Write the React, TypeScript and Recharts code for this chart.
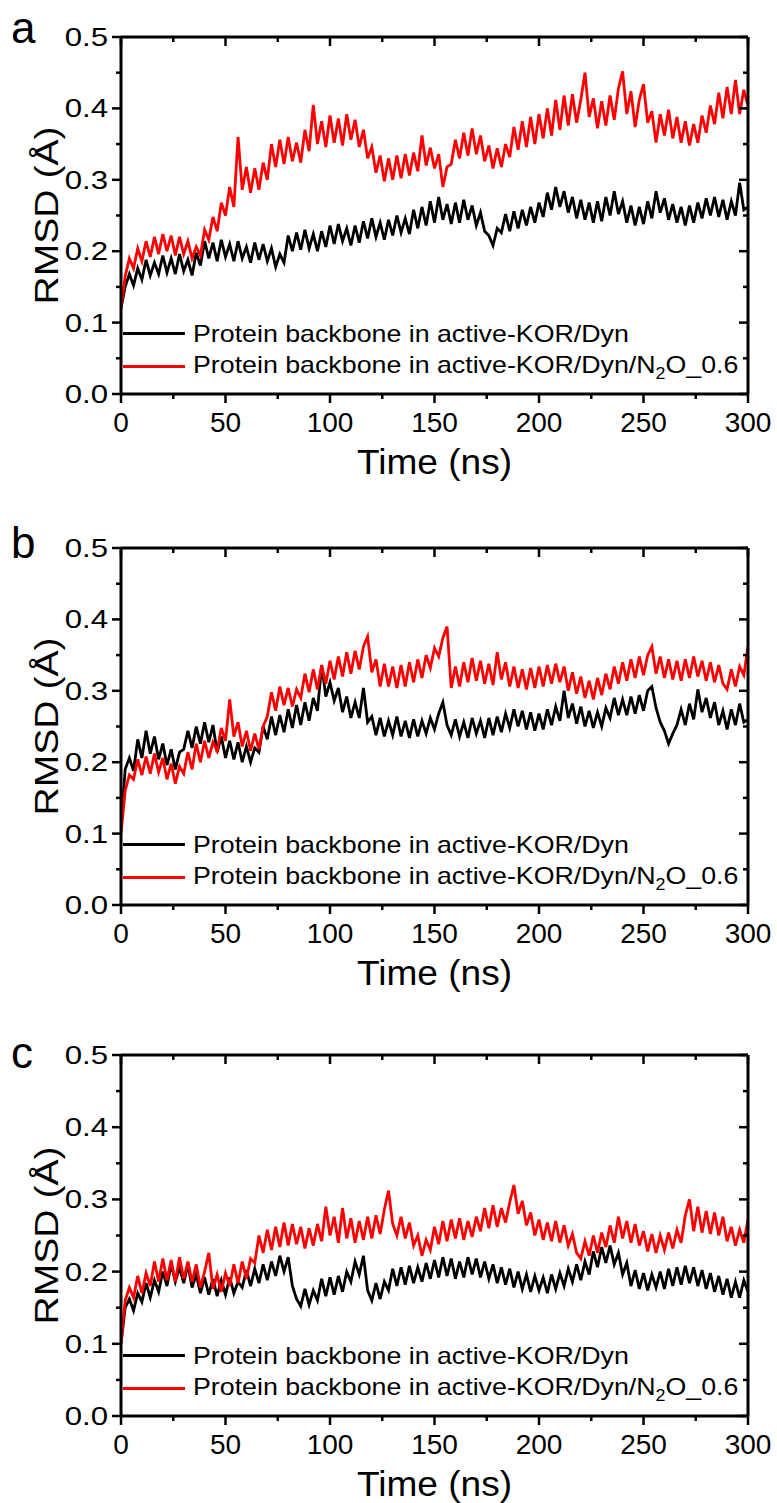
import React from 'react';
import { LineChart, Line, XAxis, YAxis, Legend } from 'recharts';

// time axis: 0 .. 300 ns, one sample every 2 ns
const TIME = Array.from({ length: 151 }, (_, i) => i * 2);
const X_TICKS = [0, 25, 50, 75, 100, 125, 150, 175, 200, 225, 250, 275, 300];
const Y_TICKS = [0, 0.05, 0.1, 0.15, 0.2, 0.25, 0.3, 0.35, 0.4, 0.45, 0.5];

// panel a
const A_DYN = [
  0.120, 0.150, 0.168, 0.152, 0.176, 0.160, 0.188, 0.166, 0.184, 0.168,
  0.194, 0.170, 0.190, 0.168, 0.196, 0.172, 0.188, 0.166, 0.198, 0.180,
  0.214, 0.190, 0.212, 0.186, 0.216, 0.192, 0.210, 0.186, 0.214, 0.190,
  0.206, 0.184, 0.212, 0.188, 0.210, 0.186, 0.204, 0.178, 0.196, 0.184,
  0.222, 0.200, 0.226, 0.202, 0.230, 0.204, 0.224, 0.200, 0.228, 0.206,
  0.236, 0.210, 0.238, 0.214, 0.232, 0.208, 0.236, 0.212, 0.242, 0.218,
  0.246, 0.220, 0.240, 0.216, 0.244, 0.222, 0.250, 0.226, 0.246, 0.224,
  0.258, 0.232, 0.262, 0.236, 0.270, 0.240, 0.276, 0.244, 0.266, 0.238,
  0.268, 0.240, 0.272, 0.244, 0.264, 0.236, 0.254, 0.228, 0.222, 0.208,
  0.232, 0.226, 0.252, 0.228, 0.256, 0.232, 0.258, 0.236, 0.262, 0.240,
  0.268, 0.248, 0.282, 0.258, 0.290, 0.262, 0.284, 0.254, 0.276, 0.246,
  0.272, 0.244, 0.268, 0.240, 0.270, 0.242, 0.276, 0.250, 0.284, 0.252,
  0.270, 0.240, 0.264, 0.236, 0.262, 0.238, 0.270, 0.246, 0.284, 0.254,
  0.274, 0.244, 0.266, 0.240, 0.262, 0.236, 0.264, 0.240, 0.268, 0.246,
  0.274, 0.250, 0.276, 0.248, 0.272, 0.244, 0.270, 0.250, 0.296, 0.258,
  0.262,
];
const A_N2O = [
  0.120, 0.165, 0.190, 0.176, 0.204, 0.186, 0.214, 0.192, 0.220, 0.196,
  0.224, 0.200, 0.222, 0.194, 0.220, 0.196, 0.214, 0.190, 0.206, 0.194,
  0.230, 0.216, 0.248, 0.228, 0.268, 0.250, 0.290, 0.262, 0.360, 0.286,
  0.318, 0.282, 0.316, 0.286, 0.324, 0.300, 0.350, 0.318, 0.356, 0.322,
  0.360, 0.326, 0.352, 0.324, 0.370, 0.340, 0.405, 0.350, 0.382, 0.346,
  0.390, 0.352, 0.386, 0.348, 0.392, 0.356, 0.384, 0.346, 0.370, 0.330,
  0.346, 0.310, 0.334, 0.298, 0.330, 0.300, 0.334, 0.302, 0.336, 0.306,
  0.338, 0.312, 0.362, 0.320, 0.345, 0.316, 0.336, 0.290, 0.318, 0.322,
  0.356, 0.330, 0.366, 0.334, 0.372, 0.336, 0.362, 0.326, 0.348, 0.316,
  0.344, 0.318, 0.350, 0.332, 0.374, 0.342, 0.382, 0.346, 0.388, 0.350,
  0.392, 0.358, 0.400, 0.362, 0.412, 0.370, 0.418, 0.376, 0.420, 0.380,
  0.412, 0.450, 0.388, 0.414, 0.372, 0.410, 0.376, 0.418, 0.384, 0.428,
  0.452, 0.392, 0.424, 0.374, 0.412, 0.434, 0.380, 0.396, 0.352, 0.392,
  0.362, 0.398, 0.358, 0.388, 0.352, 0.382, 0.348, 0.378, 0.352, 0.390,
  0.366, 0.404, 0.378, 0.422, 0.386, 0.430, 0.392, 0.440, 0.392, 0.426,
  0.404,
];

// panel b
const B_DYN = [
  0.110, 0.190, 0.206, 0.188, 0.232, 0.206, 0.244, 0.212, 0.236, 0.204,
  0.226, 0.196, 0.218, 0.190, 0.214, 0.218, 0.244, 0.220, 0.250, 0.226,
  0.256, 0.228, 0.252, 0.214, 0.236, 0.206, 0.230, 0.204, 0.228, 0.200,
  0.222, 0.200, 0.220, 0.214, 0.250, 0.232, 0.264, 0.238, 0.266, 0.242,
  0.274, 0.248, 0.280, 0.252, 0.284, 0.258, 0.290, 0.272, 0.336, 0.292,
  0.312, 0.286, 0.304, 0.270, 0.292, 0.262, 0.284, 0.262, 0.304, 0.256,
  0.264, 0.238, 0.262, 0.236, 0.258, 0.238, 0.264, 0.236, 0.258, 0.234,
  0.260, 0.236, 0.258, 0.240, 0.262, 0.246, 0.268, 0.284, 0.252, 0.238,
  0.260, 0.236, 0.256, 0.234, 0.262, 0.240, 0.258, 0.234, 0.262, 0.238,
  0.264, 0.242, 0.268, 0.248, 0.274, 0.250, 0.272, 0.246, 0.270, 0.244,
  0.268, 0.246, 0.274, 0.252, 0.278, 0.258, 0.300, 0.262, 0.282, 0.254,
  0.278, 0.250, 0.272, 0.248, 0.270, 0.250, 0.276, 0.262, 0.290, 0.266,
  0.288, 0.266, 0.292, 0.268, 0.294, 0.272, 0.300, 0.306, 0.276, 0.256,
  0.244, 0.226, 0.240, 0.252, 0.274, 0.252, 0.282, 0.260, 0.302, 0.270,
  0.290, 0.262, 0.284, 0.252, 0.272, 0.246, 0.274, 0.252, 0.282, 0.256,
  0.260,
];
const B_N2O = [
  0.100, 0.160, 0.182, 0.176, 0.204, 0.182, 0.208, 0.184, 0.212, 0.186,
  0.206, 0.176, 0.198, 0.170, 0.194, 0.184, 0.214, 0.190, 0.226, 0.200,
  0.230, 0.206, 0.228, 0.216, 0.248, 0.230, 0.288, 0.236, 0.256, 0.222,
  0.244, 0.216, 0.240, 0.218, 0.250, 0.264, 0.298, 0.272, 0.306, 0.280,
  0.304, 0.278, 0.302, 0.290, 0.324, 0.298, 0.330, 0.302, 0.336, 0.310,
  0.342, 0.316, 0.348, 0.320, 0.354, 0.324, 0.356, 0.330, 0.362, 0.376,
  0.326, 0.344, 0.306, 0.338, 0.306, 0.334, 0.304, 0.336, 0.306, 0.340,
  0.312, 0.344, 0.318, 0.350, 0.332, 0.360, 0.348, 0.374, 0.390, 0.304,
  0.334, 0.306, 0.340, 0.312, 0.346, 0.314, 0.342, 0.310, 0.338, 0.308,
  0.354, 0.316, 0.340, 0.306, 0.334, 0.304, 0.330, 0.302, 0.332, 0.304,
  0.334, 0.306, 0.336, 0.310, 0.338, 0.312, 0.334, 0.300, 0.326, 0.296,
  0.320, 0.290, 0.314, 0.288, 0.318, 0.294, 0.324, 0.302, 0.334, 0.310,
  0.340, 0.314, 0.344, 0.318, 0.348, 0.322, 0.350, 0.362, 0.324, 0.348,
  0.318, 0.344, 0.316, 0.342, 0.314, 0.344, 0.318, 0.348, 0.320, 0.342,
  0.314, 0.340, 0.312, 0.336, 0.310, 0.302, 0.330, 0.306, 0.334, 0.322,
  0.362,
];

// panel c
const C_DYN = [
  0.100, 0.150, 0.162, 0.146, 0.170, 0.158, 0.184, 0.164, 0.188, 0.172,
  0.200, 0.180, 0.210, 0.186, 0.206, 0.184, 0.210, 0.178, 0.196, 0.170,
  0.192, 0.168, 0.190, 0.166, 0.188, 0.168, 0.192, 0.170, 0.186, 0.178,
  0.202, 0.180, 0.204, 0.184, 0.210, 0.188, 0.214, 0.194, 0.222, 0.200,
  0.220, 0.180, 0.162, 0.152, 0.176, 0.154, 0.174, 0.160, 0.190, 0.166,
  0.192, 0.168, 0.194, 0.172, 0.200, 0.186, 0.214, 0.196, 0.222, 0.174,
  0.160, 0.184, 0.162, 0.186, 0.174, 0.204, 0.180, 0.206, 0.182, 0.208,
  0.184, 0.206, 0.186, 0.212, 0.190, 0.216, 0.192, 0.220, 0.194, 0.218,
  0.190, 0.214, 0.192, 0.220, 0.196, 0.218, 0.192, 0.214, 0.190, 0.210,
  0.184, 0.206, 0.182, 0.204, 0.178, 0.200, 0.176, 0.196, 0.172, 0.194,
  0.174, 0.192, 0.170, 0.196, 0.176, 0.198, 0.180, 0.204, 0.186, 0.210,
  0.188, 0.214, 0.196, 0.228, 0.206, 0.234, 0.212, 0.236, 0.210, 0.226,
  0.196, 0.212, 0.180, 0.202, 0.176, 0.198, 0.174, 0.196, 0.178, 0.200,
  0.176, 0.204, 0.180, 0.206, 0.182, 0.208, 0.184, 0.206, 0.180, 0.202,
  0.176, 0.198, 0.172, 0.194, 0.168, 0.190, 0.164, 0.186, 0.164, 0.188,
  0.172,
];
const C_N2O = [
  0.100, 0.160, 0.178, 0.164, 0.194, 0.170, 0.198, 0.180, 0.214, 0.186,
  0.218, 0.188, 0.216, 0.186, 0.220, 0.190, 0.214, 0.186, 0.210, 0.178,
  0.200, 0.226, 0.176, 0.196, 0.172, 0.198, 0.180, 0.210, 0.184, 0.214,
  0.190, 0.218, 0.212, 0.250, 0.226, 0.258, 0.230, 0.262, 0.234, 0.268,
  0.236, 0.266, 0.238, 0.262, 0.232, 0.260, 0.236, 0.266, 0.242, 0.290,
  0.250, 0.276, 0.240, 0.288, 0.246, 0.274, 0.240, 0.270, 0.244, 0.276,
  0.246, 0.278, 0.252, 0.286, 0.312, 0.266, 0.250, 0.276, 0.246, 0.268,
  0.236, 0.250, 0.222, 0.244, 0.230, 0.262, 0.238, 0.270, 0.242, 0.272,
  0.246, 0.274, 0.244, 0.270, 0.248, 0.276, 0.256, 0.288, 0.260, 0.292,
  0.262, 0.288, 0.268, 0.296, 0.320, 0.280, 0.298, 0.264, 0.282, 0.250,
  0.272, 0.244, 0.268, 0.242, 0.270, 0.240, 0.264, 0.236, 0.252, 0.226,
  0.218, 0.242, 0.222, 0.250, 0.226, 0.254, 0.234, 0.264, 0.240, 0.276,
  0.246, 0.270, 0.240, 0.266, 0.236, 0.256, 0.228, 0.252, 0.226, 0.250,
  0.230, 0.254, 0.232, 0.258, 0.240, 0.278, 0.300, 0.256, 0.290, 0.254,
  0.284, 0.252, 0.282, 0.250, 0.276, 0.242, 0.262, 0.236, 0.258, 0.240,
  0.272,
];

const LEGEND_DYN = 'Protein backbone in active-KOR/Dyn';
const FONT = '"Liberation Sans", Arial, Helvetica, sans-serif';
const W = 777;
const PLOT_L = 121;
const PLOT_R = 748;

const panels = [
  { letter: 'a', letterY: 43, dyn: A_DYN, n2o: A_N2O, plotTop: 37, plotBottom: 394 },
  { letter: 'b', letterY: 558, dyn: B_DYN, n2o: B_N2O, plotTop: 548, plotBottom: 905 },
  { letter: 'c', letterY: 1068, dyn: C_DYN, n2o: C_N2O, plotTop: 1055, plotBottom: 1416 },
];

const axisStyle = { stroke: '#000', strokeWidth: 3 };

const bottomTick = (props: any) => {
  const { x, y, payload } = props;
  const major = payload.value % 50 === 0;
  return (
    <g>
      <line x1={x} x2={x} y1={y} y2={y + (major ? 9 : 5)} stroke="#000" strokeWidth={2.5} />
      {major && (
        <text x={x} y={y + 38} textAnchor="middle" fontSize={28} fontFamily={FONT} fill="#000">
          {payload.value}
        </text>
      )}
    </g>
  );
};

const topTick = (props: any) => {
  const { x, y, payload } = props;
  const major = payload.value % 50 === 0;
  return <line x1={x} x2={x} y1={y} y2={y + (major ? 9 : 5)} stroke="#000" strokeWidth={2.5} />;
};

const leftTick = (props: any) => {
  const { x, y, payload } = props;
  const major = Math.round(payload.value * 100) % 10 === 0;
  return (
    <g>
      <line x1={x - (major ? 9 : 5)} x2={x} y1={y} y2={y} stroke="#000" strokeWidth={2.5} />
      {major && (
        <text
          transform={`translate(${x - 13},${y + 9}) scale(1.2,1)`}
          textAnchor="end"
          fontSize={26}
          fontFamily={FONT}
          fill="#000"
        >
          {payload.value.toFixed(1)}
        </text>
      )}
    </g>
  );
};

const rightTick = (props: any) => {
  const { x, y, payload } = props;
  const major = Math.round(payload.value * 100) % 10 === 0;
  return <line x1={x - (major ? 9 : 5)} x2={x} y1={y} y2={y} stroke="#000" strokeWidth={2.5} />;
};

function LegendRow({ color, children }: { color: string; children: React.ReactNode }) {
  return (
    <div style={{ display: 'flex', alignItems: 'center', height: 33 }}>
      <svg width={72} height={33} style={{ flex: 'none' }}>
        <line x1={2} x2={64} y1={16.5} y2={16.5} stroke={color} strokeWidth={3} />
      </svg>
      <span
        style={{
          fontFamily: FONT,
          fontSize: 24,
          color: '#000',
          whiteSpace: 'nowrap',
          lineHeight: '33px',
          display: 'inline-block',
          transform: 'scaleX(1.115)',
          transformOrigin: 'left center',
        }}
      >
        {children}
      </span>
    </div>
  );
}

const legendContent = () => (
  <div>
    <LegendRow color="#000">{LEGEND_DYN}</LegendRow>
    <LegendRow color="#ff0000">
      {LEGEND_DYN}/N
      <span style={{ fontSize: 16, position: 'relative', top: 6 }}>2</span>
      O_0.6
    </LegendRow>
  </div>
);

function Panel({ p }: { p: (typeof panels)[number] }) {
  const H = 500;
  const top = p.plotTop - 37;
  const plotH = p.plotBottom - p.plotTop;
  const data = TIME.map((t, i) => ({ t, dyn: p.dyn[i], n2o: p.n2o[i] }));
  // axes take 1px each, so the margins are 1px short of the plot edges
  return (
    <div style={{ position: 'absolute', left: 0, top, width: W, height: H }}>
      <LineChart
        width={W}
        height={H}
        data={data}
        margin={{ top: 36, left: PLOT_L - 1, right: W - PLOT_R - 1, bottom: H - 37 - plotH - 1 }}
      >
        <XAxis
          xAxisId="bottom"
          dataKey="t"
          type="number"
          domain={[0, 300]}
          ticks={X_TICKS}
          interval={0}
          height={1}
          tickSize={0}
          tickMargin={0}
          tickLine={false}
          axisLine={axisStyle}
          tick={bottomTick}
          allowDataOverflow
        />
        <XAxis
          xAxisId="top"
          orientation="top"
          dataKey="t"
          type="number"
          domain={[0, 300]}
          ticks={X_TICKS}
          interval={0}
          height={1}
          tickSize={0}
          tickMargin={0}
          tickLine={false}
          axisLine={axisStyle}
          tick={topTick}
          allowDataOverflow
        />
        <YAxis
          yAxisId="left"
          type="number"
          domain={[0, 0.5]}
          ticks={Y_TICKS}
          interval={0}
          width={1}
          tickSize={0}
          tickMargin={0}
          tickLine={false}
          axisLine={axisStyle}
          tick={leftTick}
          allowDataOverflow
        />
        <YAxis
          yAxisId="right"
          orientation="right"
          type="number"
          domain={[0, 0.5]}
          ticks={Y_TICKS}
          interval={0}
          width={1}
          tickSize={0}
          tickMargin={0}
          tickLine={false}
          axisLine={axisStyle}
          tick={rightTick}
          allowDataOverflow
        />
        <Line
          xAxisId="bottom"
          yAxisId="left"
          dataKey="dyn"
          stroke="#000"
          strokeWidth={2.8}
          dot={false}
          isAnimationActive={false}
        />
        <Line
          xAxisId="top"
          yAxisId="right"
          dataKey="n2o"
          stroke="#ff0000"
          strokeWidth={2.8}
          dot={false}
          isAnimationActive={false}
        />
        <Legend
          layout="horizontal"
          verticalAlign="middle"
          align="center"
          content={legendContent}
          wrapperStyle={{ left: PLOT_L, top: p.plotBottom - 61 - 16.5 - top, width: 640 }}
        />
      </LineChart>
    </div>
  );
}

export default function App() {
  return (
    <div style={{ position: 'absolute', left: 0, top: 0, width: W, height: 1503, background: '#fff' }}>
      {panels.map((p) => (
        <Panel key={p.letter} p={p} />
      ))}
      <svg
        width={W}
        height={1503}
        style={{ position: 'absolute', left: 0, top: 0, pointerEvents: 'none' }}
      >
        {panels.map((p) => (
          <g key={p.letter} fontFamily={FONT} fill="#000">
            <text x={11} y={p.letterY} fontSize={44}>
              {p.letter}
            </text>
            <text
              transform={`translate(58,${(p.plotTop + p.plotBottom) / 2}) rotate(-90) scale(1.15,1)`}
              textAnchor="middle"
              fontSize={34}
            >
              RMSD (Å)
            </text>
            <text
              transform={`translate(${(PLOT_L + PLOT_R) / 2},${p.plotBottom + 80}) scale(1.06,1)`}
              textAnchor="middle"
              fontSize={35}
            >
              Time (ns)
            </text>
          </g>
        ))}
      </svg>
    </div>
  );
}
